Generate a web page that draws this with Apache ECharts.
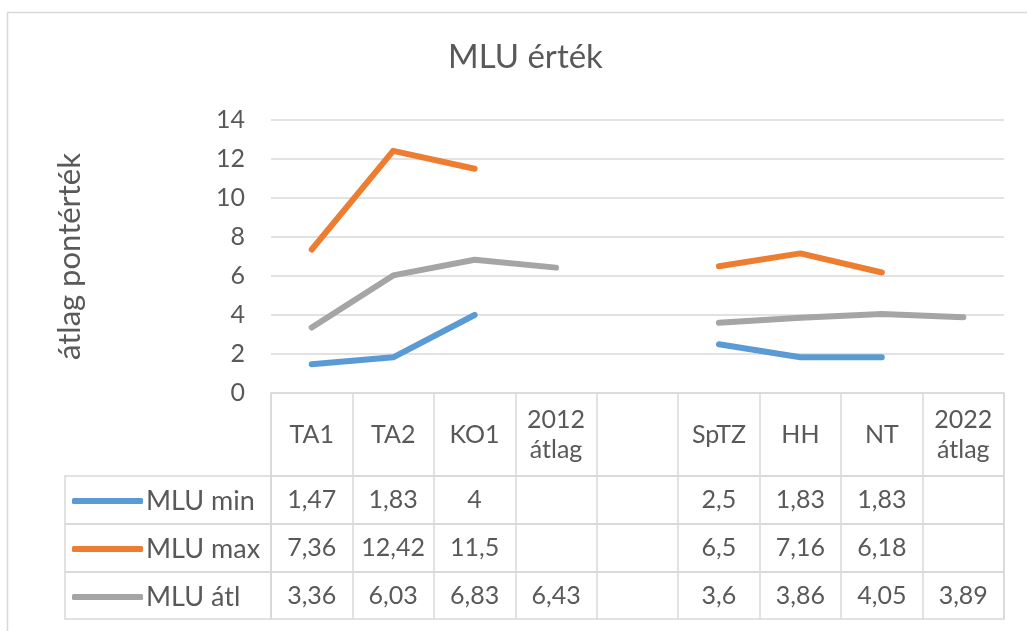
<!DOCTYPE html>
<html>
<head>
<meta charset="utf-8">
<script src="https://cdn.jsdelivr.net/npm/echarts@6/dist/echarts.min.js"></script>
<style>
  html, body { margin: 0; padding: 0; background: #fff; }
  #chart { width: 1027px; height: 631px; }
</style>
</head>
<body>
<div id="chart"></div>
<script>
// adatok
var categories = ['TA1', 'TA2', 'KO1', '2012\nátlag', '', 'SpTZ', 'HH', 'NT', '2022\nátlag'];
var mluMin = [1.47, 1.83, 4, null, null, 2.5, 1.83, 1.83, null];
var mluMax = [7.36, 12.42, 11.5, null, null, 6.5, 7.16, 6.18, null];
var mluAtl = [3.36, 6.03, 6.83, 6.43, null, 3.6, 3.86, 4.05, 3.89];
var seriesNames = ['MLU min', 'MLU max', 'MLU átl'];
var colors = ['#5B9BD5', '#ED7D31', '#A5A5A5'];

var FONT = 'Lato';
var TXT = '#595959';
var LINE = '#d9d9d9';

// táblázat sorai
var plotLeft = 271, plotRight = 23;
var rows = [
  { top: 393, height: 83 },
  { top: 476, height: 48 },
  { top: 524, height: 48 },
  { top: 572, height: 47 }
];
var rowData = [null, mluMin, mluMax, mluAtl];

function fmt(v) {
  if (v === null || v === undefined) return '';
  return String(v).replace('.', ',');
}

var chart = echarts.init(document.getElementById('chart'));

var grids = [{ left: plotLeft, right: plotRight, top: 120, height: 273 }];
var xAxes = [{
  type: 'category', gridIndex: 0, data: categories, boundaryGap: true,
  axisLine: { show: false }, axisTick: { show: false }, axisLabel: { show: false }
}];
var yAxes = [{
  type: 'value', gridIndex: 0, min: 0, max: 14, interval: 2,
  name: 'átlag pontérték', nameLocation: 'middle', nameRotate: 90, nameGap: 186,
  nameTextStyle: { fontFamily: FONT, fontSize: 31, color: TXT },
  axisLabel: { fontFamily: FONT, fontSize: 25, color: TXT, margin: 26 },
  splitLine: { lineStyle: { color: LINE, width: 1.5 } },
  axisLine: { show: false }, axisTick: { show: false }
}];

rows.forEach(function (r, i) {
  var gi = grids.length;
  grids.push({ left: plotLeft, right: plotRight, top: r.top, height: r.height,
    show: true, borderColor: LINE, borderWidth: 1.5 });
  var d = rowData[i];
  xAxes.push({
    type: 'category', gridIndex: gi, data: categories, boundaryGap: true,
    axisLine: { show: false }, axisTick: { show: false },
    splitLine: { show: true, interval: 0, lineStyle: { color: LINE, width: 1.5 } },
    axisLabel: {
      inside: true, interval: 0, margin: r.height / 2, verticalAlign: 'middle',
      fontFamily: FONT, fontSize: 25, color: TXT, lineHeight: 30,
      formatter: function (val, idx) { return d ? fmt(d[idx]) : val; }
    }
  });
  yAxes.push({ type: 'value', gridIndex: gi, show: false });
  if (i > 0) {
    // jelmagyarázat oszlop
    grids.push({ left: 65, width: plotLeft - 65, top: r.top, height: r.height,
      show: true, borderColor: LINE, borderWidth: 1.5 });
  }
});

var series = [mluMin, mluMax, mluAtl].map(function (arr, i) {
  return {
    name: seriesNames[i], type: 'line', xAxisIndex: 0, yAxisIndex: 0,
    data: arr, symbol: 'none', connectNulls: false,
    lineStyle: { width: 6, color: colors[i], cap: 'round', join: 'round' },
    itemStyle: { color: colors[i] }
  };
});

var option = {
  animation: false,
  color: colors,
  title: {
    text: 'MLU érték', left: 443, top: 36, itemGap: 0,
    textStyle: { fontFamily: FONT, fontSize: 33, fontWeight: 'normal', color: TXT }
  },
  legend: {
    orient: 'vertical', left: 72, top: 486, itemGap: 18, padding: 0,
    icon: 'roundRect', itemWidth: 71, itemHeight: 6,
    data: seriesNames,
    textStyle: { fontFamily: FONT, fontSize: 27, color: TXT, lineHeight: 30, padding: [0, 0, 0, -2] }
  },
  graphic: [{
    type: 'rect', left: 5, top: 10, silent: true,
    shape: { width: 1100, height: 700 },
    style: { fill: 'none', stroke: LINE, lineWidth: 1.5 }
  }],
  grid: grids,
  xAxis: xAxes,
  yAxis: yAxes,
  series: series
};

chart.setOption(option);
</script>
</body>
</html>
